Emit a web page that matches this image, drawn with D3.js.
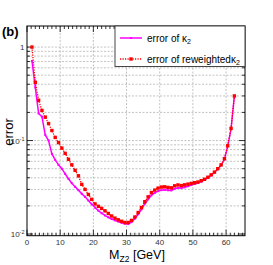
<!DOCTYPE html>
<html><head><meta charset="utf-8">
<script src="https://cdn.jsdelivr.net/npm/d3@7"></script>
<style>body{margin:0;background:#fff}svg{display:block}</style>
</head><body><svg id="c" width="273" height="265"></svg>
<script>
// ---- data ----
const massGeV = [1.5,2.5,3.5,4.5,5.5,6.5,7.5,8.5,9.5,10.5,11.5,12.5,13.5,14.5,15.5,16.5,17.5,18.5,19.5,20.5,
  21.5,22.5,23.5,24.5,25.5,26.5,27.5,28.5,29.5,30.5,31.5,32.5,33.5,34.5,35.5,36.5,37.5,38.5,39.5,40.5,
  41.5,42.5,43.5,44.5,45.5,46.5,47.5,48.5,49.5,50.5,51.5,52.5,53.5,54.5,55.5,56.5,57.5,58.5,59.5,60.5,61.5,62.5];
const errKappa2 = [0.71,0.37,0.195,0.18,0.115,0.10,0.072,0.062,0.055,0.050,0.044,0.039,0.035,0.032,0.0295,0.027,0.025,0.0228,0.0208,0.0192,
  0.0178,0.0167,0.0158,0.0151,0.0145,0.0140,0.0136,0.0132,0.0129,0.0128,0.0134,0.0146,0.0163,0.0184,0.021,0.0235,0.026,0.0275,0.0288,0.0295,
  0.0298,0.0294,0.0293,0.0305,0.0312,0.031,0.0316,0.0325,0.0335,0.0343,0.0352,0.0365,0.038,0.040,0.0425,0.0455,0.0495,0.0545,0.063,0.087,0.133,0.30];
const errReweighted = [1.00,0.42,0.27,0.21,0.178,0.152,0.128,0.108,0.095,0.083,0.073,0.063,0.055,0.048,0.042,0.034,0.030,0.0265,0.0235,0.021,
  0.0198,0.0188,0.0177,0.0166,0.0156,0.0148,0.0142,0.0137,0.0133,0.0133,0.0140,0.0152,0.0170,0.0192,0.0222,0.025,0.0278,0.0295,0.031,0.0318,
  0.032,0.0315,0.0312,0.0328,0.0335,0.033,0.0336,0.0342,0.0348,0.0354,0.036,0.0372,0.0385,0.0405,0.043,0.046,0.050,0.055,0.064,0.088,0.135,0.30];
const xTickValues = [0,10,20,30,40,50,60];
const yMajorValues = [0.01,0.1,1];
const yMajorLabels = [["10","-2"],["10","-1"],["1",""]];
const seriesNames = ["error of κ", "error of reweightedκ"];

// ---- layout ----
const svg = d3.select("#c");
const L = 27, R = 245, T = 26, B = 235.7;
const x = d3.scaleLinear().domain([0, 65.7]).range([L, R]);
const y = d3.scaleLog().domain([0.0096, 1.68]).range([B, T]);
const font = "'Liberation Sans', Arial, sans-serif";

// grid
const yMinor = [];
[0.01, 0.1, 1].forEach(d => { for (let m = 1; m <= 9; m++) { const v = d * m; if (v >= y.domain()[0] && v <= y.domain()[1]) yMinor.push(v); } });
const grid = svg.append("g").attr("stroke", "#9a9a9a").attr("stroke-width", 0.6).attr("stroke-dasharray", "2,1.5");
grid.selectAll("line.v").data(xTickValues.filter(d => d > 0)).join("line")
  .attr("x1", d => x(d)).attr("x2", d => x(d)).attr("y1", T).attr("y2", B);
grid.selectAll("line.h").data(yMinor).join("line")
  .attr("y1", d => y(d)).attr("y2", d => y(d)).attr("x1", L).attr("x2", R);

// axes ticks (ROOT style: inward)
const xMinor = d3.range(0, 65.7, 1.25);
const axes = svg.append("g").attr("stroke", "#000").attr("stroke-width", 0.8);
xMinor.forEach(v => {
  const major = Math.abs(v % 10) < 1e-6;
  const len = major ? 6 : 3;
  axes.append("line").attr("x1", x(v)).attr("x2", x(v)).attr("y1", B).attr("y2", B - len);
  axes.append("line").attr("x1", x(v)).attr("x2", x(v)).attr("y1", T).attr("y2", T + len);
});
yMinor.forEach(v => {
  const major = yMajorValues.some(m => Math.abs(m - v) < 1e-9);
  const len = major ? 6 : 3;
  axes.append("line").attr("x1", L).attr("x2", L + len).attr("y1", y(v)).attr("y2", y(v));
  axes.append("line").attr("x1", R).attr("x2", R - len).attr("y1", y(v)).attr("y2", y(v));
});

// tick labels
svg.append("g").selectAll("text").data(xTickValues).join("text")
  .attr("x", d => x(d)).attr("y", 245).attr("text-anchor", "middle")
  .attr("font-family", font).attr("font-size", 8).attr("fill", "#333").text(d => d);
const yl = svg.append("g").selectAll("text").data(yMajorValues).join("text")
  .attr("x", 24.5).attr("y", d => y(d) + 3).attr("text-anchor", "end")
  .attr("font-family", font).attr("font-size", 8).attr("fill", "#333");
yl.append("tspan").text((d, i) => yMajorLabels[i][0]);
yl.append("tspan").attr("dy", -3).attr("font-size", 5.5).text((d, i) => yMajorLabels[i][1]);

// series
const pts1 = massGeV.map((m, i) => [m, errKappa2[i]]);
const pts2 = massGeV.map((m, i) => [m, errReweighted[i]]);
const line = d3.line().x(d => x(d[0])).y(d => y(d[1]));
svg.append("clipPath").attr("id", "pc").append("rect").attr("x", L).attr("y", T).attr("width", R - L).attr("height", B - T);
const plot = svg.append("g").attr("clip-path", "url(#pc)");
plot.append("path").datum(pts1).attr("d", line).attr("fill", "none").attr("stroke", "#ff00ff").attr("stroke-width", 1.5);
plot.selectAll("rect.m1").data(pts1).join("rect").attr("x", d => x(d[0]) - 1).attr("y", d => y(d[1]) - 1)
  .attr("width", 2).attr("height", 2).attr("fill", "#ff00ff");
plot.append("path").datum(pts2).attr("d", line).attr("fill", "none").attr("stroke", "#ff0000").attr("stroke-width", 1.3).attr("stroke-dasharray", "1.2,1.3");
plot.selectAll("rect.m2").data(pts2).join("rect").attr("x", d => x(d[0]) - 1.7).attr("y", d => y(d[1]) - 1.7)
  .attr("width", 3.4).attr("height", 3.4).attr("fill", "#ff0000");

// frame
svg.append("rect").attr("x", L).attr("y", T).attr("width", R - L).attr("height", B - T)
  .attr("fill", "none").attr("stroke", "#000").attr("stroke-width", 1);

// legend
const lg = svg.append("g");
lg.append("rect").attr("x", 115).attr("y", 26).attr("width", 130).attr("height", 40.5)
  .attr("fill", "#fff").attr("stroke", "#333").attr("stroke-width", 0.9);
const entries = [{y: 38, c: "#ff00ff", dash: null, w: 1.5, ms: 2}, {y: 59, c: "#ff0000", dash: "1.2,1.3", w: 1.3, ms: 3.4}];
entries.forEach((e, i) => {
  lg.append("line").attr("x1", 120).attr("x2", 142).attr("y1", e.y).attr("y2", e.y)
    .attr("stroke", e.c).attr("stroke-width", e.w).attr("stroke-dasharray", e.dash);
  lg.append("rect").attr("x", 131 - e.ms / 2).attr("y", e.y - e.ms / 2).attr("width", e.ms).attr("height", e.ms).attr("fill", e.c);
  const t = lg.append("text").attr("x", 147).attr("y", e.y + 3.5).attr("font-family", font).attr("font-size", 10).attr("fill", "#000");
  t.append("tspan").text(seriesNames[i]);
  t.append("tspan").attr("dy", 2.5).attr("font-size", 7).text("2");
});

// titles
svg.append("text").attr("x", 2).attr("y", 36).attr("font-family", font).attr("font-weight", "bold").attr("font-size", 13).text("(b)");
svg.append("text").attr("transform", "translate(13,132) rotate(-90)").attr("text-anchor", "middle")
  .attr("font-family", font).attr("font-size", 13).text("error");
const xt = svg.append("text").attr("x", 137).attr("y", 258.5).attr("text-anchor", "middle").attr("font-family", font).attr("font-size", 12.5);
xt.append("tspan").text("M");
xt.append("tspan").attr("dy", 3).attr("font-size", 8.5).text("Z2");
xt.append("tspan").attr("dy", -3).text(" [GeV]");
</script>
</body></html>
